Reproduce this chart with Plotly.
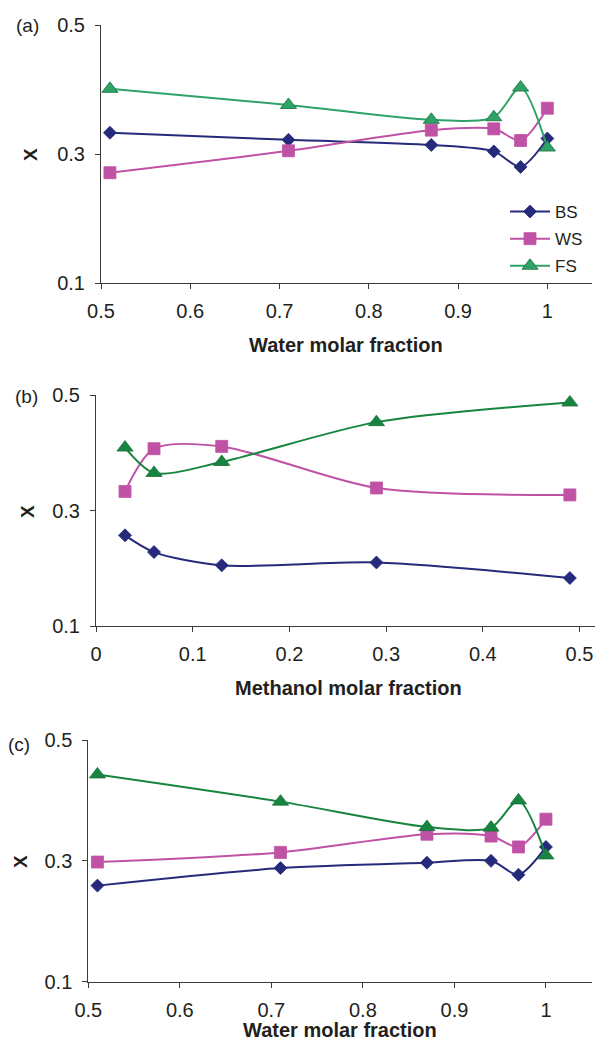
import plotly.graph_objects as go

# ---- data ----
x_water = [0.51, 0.71, 0.87, 0.94, 0.97, 1.0]
a_bs = [0.333, 0.322, 0.314, 0.304, 0.280, 0.324]
a_ws = [0.271, 0.305, 0.337, 0.339, 0.321, 0.371]
a_fs = [0.401, 0.376, 0.353, 0.357, 0.403, 0.310]

x_meth = [0.03, 0.06, 0.13, 0.29, 0.49]
b_bs = [0.257, 0.228, 0.205, 0.210, 0.183]
b_ws = [0.333, 0.407, 0.411, 0.339, 0.327]
b_fs = [0.409, 0.365, 0.384, 0.453, 0.487]

c_bs = [0.259, 0.288, 0.297, 0.300, 0.277, 0.323]
c_ws = [0.298, 0.314, 0.344, 0.341, 0.323, 0.369]
c_fs = [0.443, 0.398, 0.356, 0.355, 0.400, 0.309]

series_names = ["BS", "WS", "FS"]
panel_labels = ["(a)", "(b)", "(c)"]
x_titles = ["Water molar fraction", "Methanol molar fraction", "Water molar fraction"]
y_title = "X"

W, H = 595, 1046
FONT = "Liberation Sans, Arial, sans-serif"
TXT = "#231F20"
AX = "#3a3a3a"

C_BS = "#262A7A"
C_WS = "#C052A6"
C_FS_A = "#2FA268"
C_FS_BC = "#17853F"

def px(x):
    return x / W

def py(y):
    return 1 - y / H

fig = go.Figure()

panels = [
    ("", x_water, [a_bs, a_ws, a_fs], C_FS_A, True),
    ("2", x_meth, [b_bs, b_ws, b_fs], C_FS_BC, False),
    ("3", x_water, [c_bs, c_ws, c_fs], C_FS_BC, False),
]

for suf, xs, ys, cfs, show in panels:
    styles = [
        (C_BS, "diamond", 10, C_BS),
        (C_WS, "square", 12, C_WS),
        (cfs, "triangle-up", 14, "#17703A"),
    ]
    for name, yv, (col, sym, sz, edge) in zip(series_names, ys, styles):
        fig.add_trace(go.Scatter(
            x=xs, y=yv, name=name, mode="lines+markers",
            line=dict(color=col, width=2, shape="spline", smoothing=0.8),
            marker=dict(symbol=sym, size=sz, color=col, line=dict(color=edge, width=0.8)),
            xaxis="x" + suf, yaxis="y" + suf,
            showlegend=show, legendgroup=name,
        ))

common = dict(
    showline=True, linecolor=AX, linewidth=1, showgrid=False, zeroline=False,
    ticks="outside", ticklen=5, tickwidth=1, tickcolor=AX,
    tickfont=dict(family=FONT, size=20, color=TXT), automargin=False,
)

# pixel geometry of plot areas: (left, right, top, bottom)
geo = [(101, 592, 25, 283), (96, 595, 395, 626), (88.3, 591.7, 740, 981.7)]
xranges = [[0.5, 1.05], [0, 0.516], [0.5, 1.05]]
xtick0 = [0.5, 0, 0.5]

lay = {}
for i, suf in enumerate(["", "2", "3"]):
    l, r, t, b = geo[i]
    lay["xaxis" + suf] = dict(
        common, domain=[px(l), px(r)], range=xranges[i], tick0=xtick0[i], dtick=0.1,
        anchor="y" + suf, ticklabelstandoff=5,
    )
    lay["yaxis" + suf] = dict(
        common, domain=[py(b), py(t)], range=[0.1, 0.5], tick0=0.1, dtick=0.2,
        anchor="x" + suf, ticklabelstandoff=6,
    )

annotations = []
label_pos = [(27, 25), (26, 397), (19, 744)]
ytitle_pos = [(30, 155), (27, 512), (20, 862)]
xtitle_pos = [(346, 345), (348, 688), (340, 1030)]
for i in range(3):
    annotations.append(dict(text=panel_labels[i], x=px(label_pos[i][0]), y=py(label_pos[i][1]),
                            xref="paper", yref="paper", showarrow=False,
                            xanchor="center", yanchor="middle",
                            font=dict(family=FONT, size=19, color=TXT)))
    annotations.append(dict(text="<b>" + y_title + "</b>", x=px(ytitle_pos[i][0]), y=py(ytitle_pos[i][1]),
                            xref="paper", yref="paper", showarrow=False, textangle=-90,
                            xanchor="center", yanchor="middle",
                            font=dict(family=FONT, size=19, color=TXT)))
    annotations.append(dict(text="<b>" + x_titles[i] + "</b>", x=px(xtitle_pos[i][0]), y=py(xtitle_pos[i][1]),
                            xref="paper", yref="paper", showarrow=False,
                            xanchor="center", yanchor="middle",
                            font=dict(family=FONT, size=20, color=TXT)))

fig.update_layout(
    width=W, height=H,
    margin=dict(l=0, r=0, t=0, b=0),
    paper_bgcolor="white", plot_bgcolor="white",
    annotations=annotations,
    legend=dict(x=px(505), y=py(194), xanchor="left", yanchor="top",
                bgcolor="rgba(0,0,0,0)", font=dict(family=FONT, size=17, color=TXT),
                itemwidth=40, tracegroupgap=2),
    showlegend=True,
    **lay,
)

fig.write_html("out.html")
